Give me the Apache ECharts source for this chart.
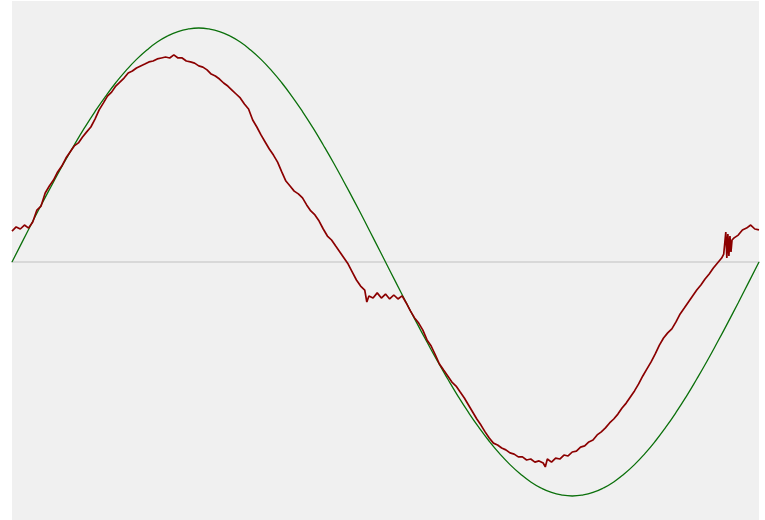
<!DOCTYPE html>
<html>
<head>
  <meta charset="utf-8">
  <title>signal vs sine</title>
  <script src="https://cdn.jsdelivr.net/npm/echarts@6/dist/echarts.min.js"></script>
  <style>
    html, body { margin: 0; padding: 0; background: #fff; }
    #chart { width: 765px; height: 520px; }
  </style>
</head>
<body>
<div id="chart"></div>
<script>
  // reference sine, phase in degrees
  var sineX = [0, 5, 10, 15, 20, 25, 30, 35, 40, 45, 50, 55, 60, 65, 70, 75, 80, 85, 90,
    95, 100, 105, 110, 115, 120, 125, 130, 135, 140, 145, 150, 155, 160, 165, 170, 175, 180,
    185, 190, 195, 200, 205, 210, 215, 220, 225, 230, 235, 240, 245, 250, 255, 260, 265, 270,
    275, 280, 285, 290, 295, 300, 305, 310, 315, 320, 325, 330, 335, 340, 345, 350, 355, 360];
  var sineY = [0, 0.087, 0.174, 0.259, 0.342, 0.423, 0.5, 0.574, 0.643, 0.707, 0.766, 0.819, 0.866, 0.906, 0.94, 0.966, 0.985, 0.996, 1,
    0.996, 0.985, 0.966, 0.94, 0.906, 0.866, 0.819, 0.766, 0.707, 0.643, 0.574, 0.5, 0.423, 0.342, 0.259, 0.174, 0.087, 0,
    -0.087, -0.174, -0.259, -0.342, -0.423, -0.5, -0.574, -0.643, -0.707, -0.766, -0.819, -0.866, -0.906, -0.94, -0.966, -0.985, -0.996, -1,
    -0.996, -0.985, -0.966, -0.94, -0.906, -0.866, -0.819, -0.766, -0.707, -0.643, -0.574, -0.5, -0.423, -0.342, -0.259, -0.174, -0.087, 0];

  // measured (noisy) signal
  var signalX = [0, 2, 4, 6, 8, 10, 12, 14, 16, 18, 20, 22, 24, 26, 28, 30, 32, 34, 36, 38,
    40, 42, 44, 46, 48, 50, 52, 54, 56, 58, 60, 62, 64, 66, 68, 70, 72, 74, 76, 78,
    80, 82, 84, 86, 88, 90, 92, 94, 96, 98, 100, 102, 104, 106, 108, 110, 112, 114, 116, 118,
    120, 122, 124, 126, 128, 130, 132, 134, 136, 138, 140, 142, 144, 146, 148, 150, 152, 154, 156, 158,
    160, 162, 164, 166, 168, 170, 171, 172, 174, 176, 178, 180, 182, 184, 186, 188, 190, 192, 194, 196,
    198, 200, 202, 204, 206, 208, 210, 212, 214, 216, 218, 220, 222, 224, 226, 228, 230, 232, 234, 236,
    238, 240, 242, 244, 246, 248, 250, 252, 254, 256, 257, 258, 260, 262, 264, 266, 268, 270, 272, 274,
    276, 278, 280, 282, 284, 286, 288, 290, 292, 294, 296, 298, 300, 302, 304, 306, 308, 310, 312, 314,
    316, 318, 320, 322, 324, 326, 328, 330, 332, 334, 336, 338, 340, 342, 343, 344, 344.5, 345, 345.5, 346,
    346.5, 347, 348, 350, 352, 354, 356, 358, 360];
  var signalY = [0.132, 0.150, 0.141, 0.158, 0.145, 0.171, 0.222, 0.239, 0.295, 0.325, 0.350, 0.385, 0.410, 0.444, 0.470, 0.496, 0.509, 0.534, 0.556, 0.577,
    0.611, 0.650, 0.679, 0.709, 0.726, 0.752, 0.769, 0.786, 0.808, 0.816, 0.829, 0.838, 0.846, 0.855, 0.859, 0.868, 0.872, 0.876, 0.872, 0.885,
    0.872, 0.872, 0.859, 0.855, 0.850, 0.838, 0.833, 0.821, 0.803, 0.795, 0.782, 0.765, 0.752, 0.735, 0.718, 0.701, 0.675, 0.654, 0.607, 0.577,
    0.543, 0.513, 0.483, 0.457, 0.427, 0.385, 0.346, 0.325, 0.303, 0.291, 0.274, 0.244, 0.218, 0.201, 0.175, 0.141, 0.111, 0.094, 0.068, 0.043,
    0.017, -0.009, -0.043, -0.077, -0.103, -0.120, -0.171, -0.145, -0.154, -0.132, -0.154, -0.137, -0.158, -0.141, -0.158, -0.145, -0.175, -0.209, -0.239, -0.261,
    -0.291, -0.333, -0.359, -0.397, -0.436, -0.462, -0.487, -0.513, -0.530, -0.556, -0.581, -0.611, -0.641, -0.671, -0.697, -0.726, -0.752, -0.774, -0.782, -0.795,
    -0.803, -0.816, -0.821, -0.833, -0.833, -0.846, -0.842, -0.855, -0.850, -0.859, -0.876, -0.842, -0.855, -0.838, -0.842, -0.825, -0.829, -0.812, -0.808, -0.791,
    -0.786, -0.769, -0.761, -0.739, -0.726, -0.709, -0.688, -0.671, -0.650, -0.624, -0.603, -0.577, -0.551, -0.521, -0.487, -0.457, -0.427, -0.393, -0.355, -0.325,
    -0.303, -0.286, -0.256, -0.222, -0.197, -0.171, -0.145, -0.120, -0.098, -0.073, -0.051, -0.026, -0.004, 0.017, 0.034, 0.128, 0.017, 0.120, 0.026, 0.111,
    0.043, 0.094, 0.103, 0.115, 0.137, 0.145, 0.158, 0.141, 0.137];

  function pairs(xs, ys) {
    var out = [];
    for (var i = 0; i < xs.length; i++) {
      out.push([xs[i], ys[i]]);
    }
    return out;
  }

  var chart = echarts.init(document.getElementById('chart'), null, {renderer: 'canvas'});
  chart.setOption({
    animation: false,
    grid: {
      show: true,
      left: 12,
      top: 1,
      width: 747,
      height: 519,
      backgroundColor: '#f0f0f0',
      borderWidth: 0
    },
    xAxis: {
      type: 'value',
      min: 0,
      max: 360,
      axisLine: {
        show: true,
        onZero: true,
        lineStyle: {color: '#d8d8d8', width: 2}
      },
      axisTick: {show: false},
      axisLabel: {show: false},
      splitLine: {show: false}
    },
    yAxis: {
      type: 'value',
      // zero sits a bit below the middle of the plot
      min: -1.1026,
      max: 1.1154,
      axisLine: {show: false},
      axisTick: {show: false},
      axisLabel: {show: false},
      splitLine: {show: false}
    },
    series: [
      {
        name: 'sine',
        type: 'line',
        data: pairs(sineX, sineY),
        smooth: true,
        showSymbol: false,
        lineStyle: {color: '#0b700b', width: 1.3}
      },
      {
        name: 'signal',
        type: 'line',
        data: pairs(signalX, signalY),
        showSymbol: false,
        lineStyle: {color: '#8b0000', width: 1.7}
      }
    ]
  });
</script>
</body>
</html>
